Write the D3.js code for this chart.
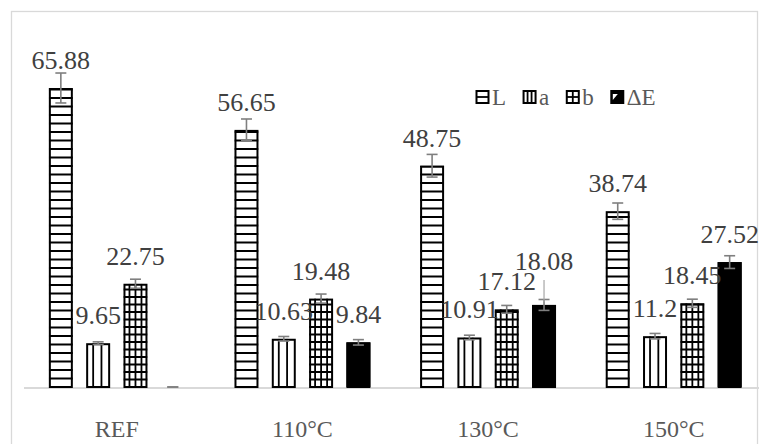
<!DOCTYPE html>
<html>
<head>
<meta charset="utf-8">
<script src="https://cdn.jsdelivr.net/npm/d3@7/dist/d3.min.js"></script>
<style>
  html, body { margin: 0; padding: 0; background: #fff; }
  svg { display: block; }
  text { font-family: "Liberation Serif", "Times New Roman", serif; }
</style>
</head>
<body>
<svg id="chart" width="759" height="444"></svg>
<script>
const categories = ["REF", "110°C", "130°C", "150°C"];
const seriesNames = ["L", "a", "b", "ΔE"];
const valuesL  = [65.88, 56.65, 48.75, 38.74];
const valuesA  = [9.65, 10.63, 10.91, 11.2];
const valuesB  = [22.75, 19.48, 17.12, 18.45];
const valuesDE = [0, 9.84, 18.08, 27.52];
const errL  = [3.3, 2.4, 2.5, 1.8];
const errA  = [0.3, 0.5, 0.5, 0.6];
const errB  = [1.0, 1.0, 0.85, 0.9];
const errDE = [0, 0.6, 1.2, 1.4];
const labelsDE = ["", "9.84", "18.08", "27.52"];

const seriesValues = [valuesL, valuesA, valuesB, valuesDE];
const seriesErrors = [errL, errA, errB, errDE];

const svg = d3.select("#chart");
const W = 759, H = 444;

// outer border
svg.append("rect").attr("x", 11.5).attr("y", 11.5).attr("width", 746).attr("height", 440)
  .attr("fill", "none").attr("stroke", "#d9d9d9").attr("stroke-width", 1.3);

const x0 = d3.scaleBand().domain(categories).range([24, 766.5]).padding(0);
const x1 = d3.scaleBand().domain(seriesNames).range([0, x0.bandwidth()])
  .paddingInner(0.357).paddingOuter(0.666);
const y = d3.scaleLinear().domain([0, 70]).range([387, 69.3]);

const data = [];
categories.forEach((c, ci) => {
  seriesNames.forEach((s, si) => {
    data.push({ cat: c, ci, s, si, v: seriesValues[si][ci], e: seriesErrors[si][ci] });
  });
});

const defs = svg.append("defs");
const bw = x1.bandwidth();

// axis baseline
svg.append("line").attr("x1", x0.range()[0]).attr("x2", W).attr("y1", y(0) + 1).attr("y2", y(0) + 1)
  .attr("stroke", "#d9d9d9").attr("stroke-width", 2);

const barG = svg.append("g");
data.forEach((d, i) => {
  if (d.v <= 0) return;
  const bx = x0(d.cat) + x1(d.s);
  const top = y(d.v), bot = y(0);
  const g = barG.append("g");
  const clipId = "clip" + i;
  defs.append("clipPath").attr("id", clipId).append("rect")
    .attr("x", bx).attr("y", top).attr("width", bw).attr("height", bot - top);
  g.append("rect").attr("x", bx).attr("y", top).attr("width", bw).attr("height", bot - top)
    .attr("fill", d.si === 3 ? "#000" : "#fff");
  const hg = g.append("g").attr("clip-path", `url(#${clipId})`).attr("stroke", "#000");
  if (d.si === 0) {
    for (let yy = bot - 8.5; yy > top; yy -= 8.5) {
      hg.append("line").attr("x1", bx).attr("x2", bx + bw).attr("y1", yy).attr("y2", yy).attr("stroke-width", 1.8);
    }
  } else if (d.si === 1) {
    for (let xx = bx + 7; xx < bx + bw - 2; xx += 8.3) {
      hg.append("line").attr("x1", xx).attr("x2", xx).attr("y1", top).attr("y2", bot).attr("stroke-width", 1.8);
    }
  } else if (d.si === 2) {
    for (let yy = bot - 7.5; yy > top; yy -= 7.5) {
      hg.append("line").attr("x1", bx).attr("x2", bx + bw).attr("y1", yy).attr("y2", yy).attr("stroke-width", 1.8);
    }
    for (let xx = bx + 6; xx < bx + bw - 2; xx += 6) {
      hg.append("line").attr("x1", xx).attr("x2", xx).attr("y1", top).attr("y2", bot).attr("stroke-width", 1.8);
    }
  }
  g.append("rect").attr("x", bx + 1).attr("y", top + 1).attr("width", bw - 2).attr("height", bot - top - 1)
    .attr("fill", "none").attr("stroke", "#000").attr("stroke-width", 2);
});

// error bars
const errG = svg.append("g").attr("stroke", "#7f7f7f").attr("stroke-width", 1.6);
data.forEach(d => {
  const cx = x0(d.cat) + x1(d.s) + bw / 2;
  const hi = y(d.v + d.e), lo = y(Math.max(0, d.v - d.e));
  errG.append("line").attr("x1", cx).attr("x2", cx).attr("y1", hi).attr("y2", lo);
  errG.append("line").attr("x1", cx - 5.5).attr("x2", cx + 5.5).attr("y1", hi).attr("y2", hi);
  errG.append("line").attr("x1", cx - 5.5).attr("x2", cx + 5.5).attr("y1", lo).attr("y2", lo);
});

// data labels
const labG = svg.append("g").attr("fill", "#404040").attr("font-size", 26).attr("text-anchor", "middle");
data.forEach(d => {
  if (d.v <= 0) return;
  const cx = x0(d.cat) + x1(d.s) + bw / 2;
  const txt = d.si === 3 ? labelsDE[d.ci] : String(d.v);
  let base = y(d.v) - 19;
  if (d.si === 3 && d.ci === 2) {
    base = y(d.v) - 35;
    svg.append("line").attr("x1", cx).attr("x2", cx).attr("y1", base + 10).attr("y2", y(d.v) - 3)
      .attr("stroke", "#a6a6a6").attr("stroke-width", 1.2);
  }
  labG.append("text").attr("x", cx).attr("y", base).text(txt);
});

// category labels
svg.append("g").selectAll("text").data(categories).join("text")
  .attr("x", d => x0(d) + x0.bandwidth() / 2).attr("y", 437)
  .attr("text-anchor", "middle").attr("font-size", 24).attr("fill", "#595959").text(d => d);

// legend
const leg = svg.append("g");
let lx = 476;
const ly = 97;
seriesNames.forEach((s, si) => {
  const g = leg.append("g");
  const sz = 12;
  g.append("rect").attr("x", lx + 0.5).attr("y", ly - sz / 2).attr("width", sz).attr("height", sz)
    .attr("fill", "#fff").attr("stroke", "#000").attr("stroke-width", 2);
  if (si === 0) {
    g.append("line").attr("x1", lx).attr("x2", lx + sz).attr("y1", ly).attr("y2", ly).attr("stroke", "#000").attr("stroke-width", 1.8);
  } else if (si === 1) {
    [lx + 4.5, lx + 8.5].forEach(xx => g.append("line").attr("x1", xx).attr("x2", xx).attr("y1", ly - sz / 2).attr("y2", ly + sz / 2).attr("stroke", "#000").attr("stroke-width", 1.8));
  } else if (si === 2) {
    g.append("line").attr("x1", lx).attr("x2", lx + sz).attr("y1", ly).attr("y2", ly).attr("stroke", "#000").attr("stroke-width", 1.8);
    g.append("line").attr("x1", lx + 6.5).attr("x2", lx + 6.5).attr("y1", ly - sz / 2).attr("y2", ly + sz / 2).attr("stroke", "#000").attr("stroke-width", 1.8);
  } else {
    g.append("rect").attr("x", lx + 0.5).attr("y", ly - sz / 2).attr("width", sz).attr("height", sz).attr("fill", "#000");
    g.append("path").attr("d", `M${lx + 2},${ly + 3} L${lx + 7},${ly - 3} L${lx + 2},${ly - 3} Z`).attr("fill", "#fff");
  }
  const t = g.append("text").attr("x", lx + sz + 4).attr("y", ly + 7.5).attr("font-size", 23).attr("fill", "#595959").text(s);
  lx += sz + 4 + t.node().getComputedTextLength() + 17;
});
</script>
</body>
</html>
